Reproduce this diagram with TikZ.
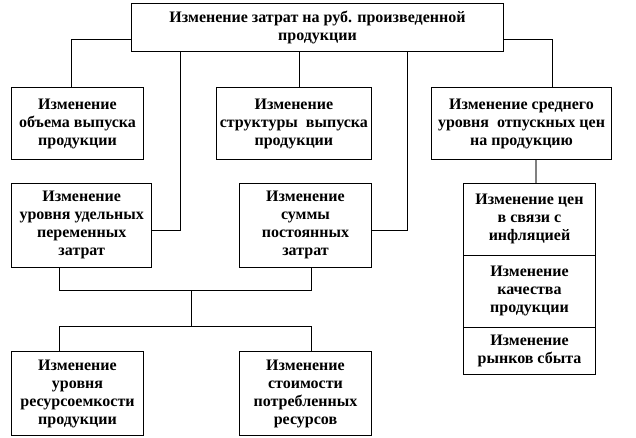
\documentclass[tikz,border=0pt]{standalone}
\usepackage{fontspec}
\setmainfont{Liberation Serif}
\usetikzlibrary{positioning,calc}

\begin{document}
\begin{tikzpicture}[x=0.75pt, y=-0.75pt, line width=0.75pt,
    bloc/.style={draw, align=center, inner sep=0pt, font=\fontsize{12}{13.5}\selectfont\bfseries},
    taille/.style 2 args={minimum width=#1*0.75pt, minimum height=#2*0.75pt}]
      \useasboundingbox (0,0) rectangle (636,438);
      \node[bloc, taille={371.6}{48.4}] (zatraty) at (317.5,27.5) {Изменение затрат на руб. произведенной\\продукции};
      \node[bloc, taille={131.6}{71.6}] (obem) at (77.5,123.5) {Изменение\\объема выпуска\\продукции};
      \node[bloc, taille={155.7}{71.6}] (struktura) at (293.85,123.5) {Изменение\\структуры\ \ выпуска\\продукции};
      \node[bloc, taille={179.6}{71.6}] (ceny) at (521.5,123.5) {Изменение среднего\\уровня\ \ отпускных цен\\на продукцию};
      \node[bloc, taille={140}{84}] (udeln) at (81.7,225.3) {Изменение\\уровня удельных\\переменных\\затрат};
      \node[bloc, taille={132.4}{84}] (postoyan) at (305.5,225.3) {Изменение\\суммы\\постоянных\\затрат};
      \node[bloc, taille={131.6}{72}] (inflyac) at (529.5,219.3) {Изменение цен\\в связи с\\инфляцией};
      \node[bloc, taille={131.6}{72}] (kachestvo) at (529.5,291.3) {Изменение\\качества\\продукции};
      \node[bloc, taille={131.6}{47.7}] (rynki) at (529.5,351.15) {Изменение\\рынков сбыта};
      \node[bloc, taille={131.6}{84}] (resurs) at (77.5,393.7) {Изменение\\уровня\\ресурсоемкости\\продукции};
      \node[bloc, taille={132.4}{84}] (stoim) at (305.5,393.7) {Изменение\\стоимости\\потребленных\\ресурсов};
      \coordinate (noeud1) at (191.7,290.7);
      \coordinate (noeud2) at (191.7,326.7);
      % branches du haut
      \draw (zatraty.west |- 0,39.3) -| (obem.north -| 71.7,0);
      \draw (zatraty.east |- 0,39.3) -| (ceny.north -| 552,0);
      \draw (zatraty.south -| 299.3,0) -- (struktura.north -| 299.3,0);
      \draw (zatraty.south -| 180,0) |- (udeln.east |- 0,231);
      \draw (zatraty.south -| 407.7,0) |- (postoyan.east |- 0,231);
      \draw[gray, line width=1.5pt] (ceny.south -| 536,0) -- (inflyac.north -| 536,0);
      % branches du bas
      \draw (udeln.south -| 59.3,0) |- (noeud1) -| (postoyan.south -| 311.7,0);
      \draw (noeud1) -- (noeud2);
      \draw (resurs.north -| 59.3,0) |- (noeud2) -| (stoim.north -| 311.7,0);
    \end{tikzpicture}
\end{document}
